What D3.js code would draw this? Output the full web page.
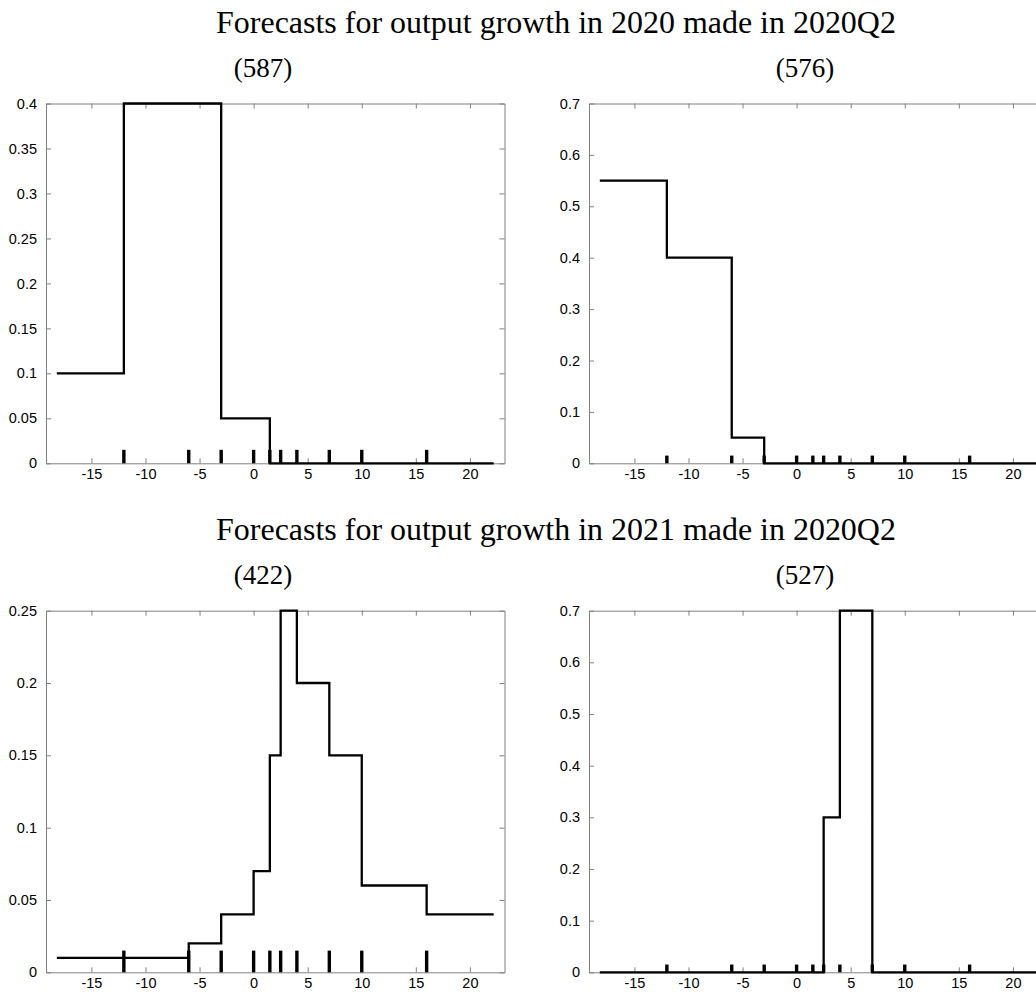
<!DOCTYPE html>
<html>
<head>
<meta charset="utf-8">
<script src="https://cdn.jsdelivr.net/npm/d3@7/dist/d3.min.js"></script>
<style>
  html, body { margin: 0; padding: 0; background: #fff; }
  svg { display: block; }
</style>
</head>
<body>
<svg id="chart" width="1036" height="994"></svg>
<script>
// ---------------- data ----------------
const binEdges = [-18.2, -12, -6, -3, 0, 1.5, 2.5, 4, 7, 10, 16, 22.2];
const rugPositions = [-12, -6, -3, 0, 1.5, 2.5, 4, 7, 10, 16];
const rugHeight = 0.015;

const titles = [
  "Forecasts for output growth in 2020 made in 2020Q2",
  "Forecasts for output growth in 2021 made in 2020Q2"
];
const panelLabels = ["(587)", "(576)", "(422)", "(527)"];

const probs2020A = [0.10, 0.40, 0.40, 0.05, 0.05, 0, 0, 0, 0, 0, 0];
const probs2020B = [0.55, 0.40, 0.05, 0, 0, 0, 0, 0, 0, 0, 0];
const probs2021A = [0.01, 0.01, 0.02, 0.04, 0.07, 0.15, 0.25, 0.20, 0.15, 0.06, 0.04];
const probs2021B = [0, 0, 0, 0, 0, 0, 0.30, 0.70, 0, 0, 0];

const xTicks = [-15, -10, -5, 0, 5, 10, 15, 20];
const xTickLabels = ["-15", "-10", "-5", "0", "5", "10", "15", "20"];
const yTicks2020A = [0, 0.05, 0.1, 0.15, 0.2, 0.25, 0.3, 0.35, 0.4];
const yLabels2020A = ["0", "0.05", "0.1", "0.15", "0.2", "0.25", "0.3", "0.35", "0.4"];
const yTicks2020B = [0, 0.1, 0.2, 0.3, 0.4, 0.5, 0.6, 0.7];
const yLabels2020B = ["0", "0.1", "0.2", "0.3", "0.4", "0.5", "0.6", "0.7"];
const yTicks2021A = [0, 0.05, 0.1, 0.15, 0.2, 0.25];
const yLabels2021A = ["0", "0.05", "0.1", "0.15", "0.2", "0.25"];
const yTicks2021B = [0, 0.1, 0.2, 0.3, 0.4, 0.5, 0.6, 0.7];
const yLabels2021B = ["0", "0.1", "0.2", "0.3", "0.4", "0.5", "0.6", "0.7"];

const xDomain = [-19.2, 23.2];
const yMax = [0.4, 0.7, 0.25, 0.7];

// ---------------- layout ----------------
const svg = d3.select("#chart");
const cols = [{x0: 46, x1: 504.5}, {x0: 589, x1: 1047.5}];
const rows = [{y0: 103.5, y1: 463.3}, {y0: 610.7, y1: 972.3}];
const axisColor = "#808080";
const tickLen = 5;

const panels = [
  {probs: probs2020A, yTicks: yTicks2020A, yLabels: yLabels2020A, yMax: yMax[0], col: 0, row: 0, label: panelLabels[0]},
  {probs: probs2020B, yTicks: yTicks2020B, yLabels: yLabels2020B, yMax: yMax[1], col: 1, row: 0, label: panelLabels[1]},
  {probs: probs2021A, yTicks: yTicks2021A, yLabels: yLabels2021A, yMax: yMax[2], col: 0, row: 1, label: panelLabels[2]},
  {probs: probs2021B, yTicks: yTicks2021B, yLabels: yLabels2021B, yMax: yMax[3], col: 1, row: 1, label: panelLabels[3]}
];

const serif = "'Liberation Serif', 'DejaVu Serif', serif";
const sans = "'Liberation Sans', Arial, Helvetica, sans-serif";

// Titles
const titleY = [33, 540];
const titleWidth = 680;
titles.forEach((t, i) => {
  const txt = svg.append("text")
    .attr("x", 556).attr("y", titleY[i])
    .attr("text-anchor", "middle")
    .attr("font-family", serif)
    .attr("font-size", 28)
    .attr("fill", "#000")
    .text(t);
  const w = txt.node().getComputedTextLength();
  if (w > 0) txt.attr("font-size", 28 * titleWidth / w);
});

const labelX = [263, 805];
const labelY = [77, 584];

panels.forEach(p => {
  const c = cols[p.col], r = rows[p.row];
  const x = d3.scaleLinear().domain(xDomain).range([c.x0, c.x1]);
  const y = d3.scaleLinear().domain([0, p.yMax]).range([r.y1, r.y0]);
  const g = svg.append("g");

  // panel label
  g.append("text")
    .attr("x", labelX[p.col]).attr("y", labelY[p.row])
    .attr("text-anchor", "middle")
    .attr("font-family", serif)
    .attr("font-size", 27)
    .attr("fill", "#000")
    .text(p.label);

  // axes (box with inward ticks)
  const bottom = d3.axisBottom(x).tickValues(xTicks).tickSizeInner(-tickLen).tickSizeOuter(0).tickPadding(5)
    .tickFormat((d, i) => xTickLabels[i]);
  const top = d3.axisTop(x).tickValues(xTicks).tickSizeInner(-tickLen).tickSizeOuter(0).tickFormat("");
  const left = d3.axisLeft(y).tickValues(p.yTicks).tickSizeInner(-tickLen).tickSizeOuter(0).tickPadding(9)
    .tickFormat((d, i) => p.yLabels[i]);
  const right = d3.axisRight(y).tickValues(p.yTicks).tickSizeInner(-tickLen).tickSizeOuter(0).tickFormat("");

  const styleAxis = sel => {
    sel.selectAll("path.domain").attr("stroke", axisColor).attr("stroke-width", 1);
    sel.selectAll(".tick line").attr("stroke", axisColor).attr("stroke-width", 1);
    sel.selectAll(".tick text").attr("fill", "#000").attr("font-family", sans).attr("font-size", 14.5);
  };
  g.append("g").attr("transform", `translate(0,${r.y1})`).call(bottom).call(styleAxis);
  g.append("g").attr("transform", `translate(0,${r.y0})`).call(top).call(styleAxis);
  g.append("g").attr("transform", `translate(${c.x0},0)`).call(left).call(styleAxis);
  g.append("g").attr("transform", `translate(${c.x1},0)`).call(right).call(styleAxis);

  // rug marks at bin edges
  g.selectAll("line.rug").data(rugPositions).enter().append("line")
    .attr("class", "rug")
    .attr("x1", d => x(d)).attr("x2", d => x(d))
    .attr("y1", y(0)).attr("y2", y(rugHeight))
    .attr("stroke", "#000").attr("stroke-width", 3.4);

  // step histogram line
  const pts = p.probs.map((v, i) => [binEdges[i], v]);
  pts.push([binEdges[binEdges.length - 1], p.probs[p.probs.length - 1]]);
  const line = d3.line().x(d => x(d[0])).y(d => y(d[1])).curve(d3.curveStepAfter);
  g.append("path")
    .attr("d", line(pts))
    .attr("fill", "none")
    .attr("stroke", "#000")
    .attr("stroke-width", 2.3)
    .attr("stroke-linejoin", "miter");
});
</script>
</body>
</html>
